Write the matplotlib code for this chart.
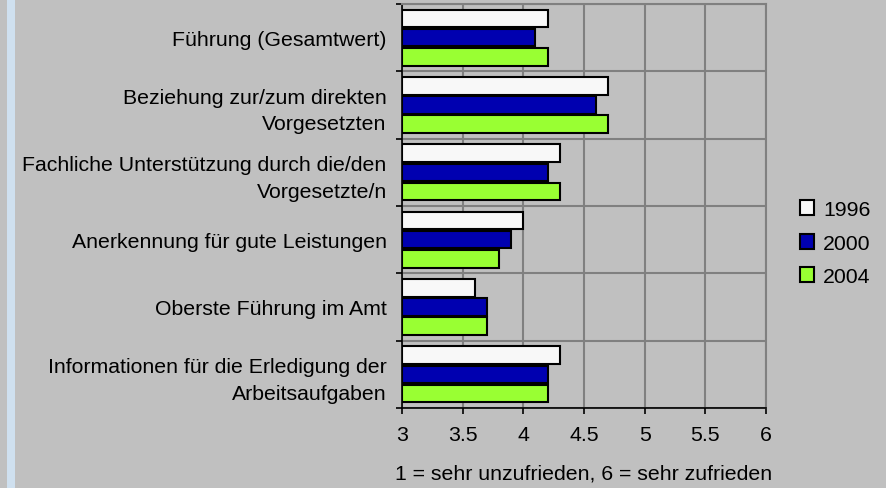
import matplotlib
matplotlib.use("Agg")
import matplotlib.pyplot as plt
from matplotlib.patches import Rectangle
import numpy as np

categories = [
    "Führung (Gesamtwert)",
    "Beziehung zur/zum direkten\nVorgesetzten",
    "Fachliche Unterstützung durch die/den\nVorgesetzte/n",
    "Anerkennung für gute Leistungen",
    "Oberste Führung im Amt",
    "Informationen für die Erledigung der\nArbeitsaufgaben",
]
years = ["1996", "2000", "2004"]
v1996 = [4.2, 4.7, 4.3, 4.0, 3.6, 4.3]
v2000 = [4.1, 4.6, 4.2, 3.9, 3.7, 4.2]
v2004 = [4.2, 4.7, 4.3, 3.8, 3.7, 4.2]
colors = ["#f8f8f8", "#0000b0", "#99ff33"]
xlabel = "1 = sehr unzufrieden, 6 = sehr zufrieden"

plt.rcParams["font.family"] = ["Liberation Sans", "DejaVu Sans"]
fs = 15.3

fig = plt.figure(figsize=(8.87, 4.89), dpi=100)
fig.patch.set_facecolor("#c0c0c0")
fig.patches.append(Rectangle((7 / 887, 0), 8 / 887, 1, transform=fig.transFigure,
                             facecolor="#cfe0ef", edgecolor="none", zorder=0))

ax = fig.add_axes([402 / 887, 1 - 409 / 489, 364 / 887, 404 / 489])
ax.set_facecolor("#c0c0c0")

y = np.arange(len(categories))
h = 0.26
step = 0.285
for k, (vals, c, lab) in enumerate(zip([v1996, v2000, v2004], colors, years)):
    ax.barh(y + (k - 1) * step, np.array(vals) - 3, left=3, height=h, color=c,
            edgecolor="black", linewidth=1.5, label=lab, zorder=3)

ax.set_xlim(3, 6)
ax.set_ylim(len(categories) - 0.5, -0.5)
ax.set_xticks(np.arange(3, 6.01, 0.5))
ax.set_xticklabels(["3", "3.5", "4", "4.5", "5", "5.5", "6"], fontsize=fs)
ax.set_yticks(y)
ax.set_yticklabels(categories, fontsize=fs, linespacing=1.5)
ax.set_yticks(np.arange(-0.5, len(categories)), minor=True)
ax.tick_params(axis="y", which="major", length=0, pad=11)
ax.tick_params(axis="y", which="minor", length=4, width=1.2, direction="out", color="black")
ax.tick_params(axis="x", which="major", length=4, width=1.2, direction="out", pad=8, color="black")

ax.grid(axis="x", which="major", color="#808080", linewidth=1.5, zorder=1)
ax.grid(axis="y", which="minor", color="#808080", linewidth=1.5, zorder=1)
ax.set_axisbelow(True)
for s in ["top", "right"]:
    ax.spines[s].set_color("#808080")
    ax.spines[s].set_linewidth(1.5)
for s in ["left", "bottom"]:
    ax.spines[s].set_color("black")
    ax.spines[s].set_linewidth(1.2)

ax.set_xlabel(xlabel, fontsize=fs, labelpad=14)

fig.legend(loc="center left", bbox_to_anchor=(789 / 887, 1 - 244 / 489), frameon=False,
           fontsize=fs, handlelength=0.7, handleheight=0.7, handletextpad=0.4,
           labelspacing=0.68, borderpad=0)

fig.savefig("out.png", dpi=100, facecolor=fig.get_facecolor())
